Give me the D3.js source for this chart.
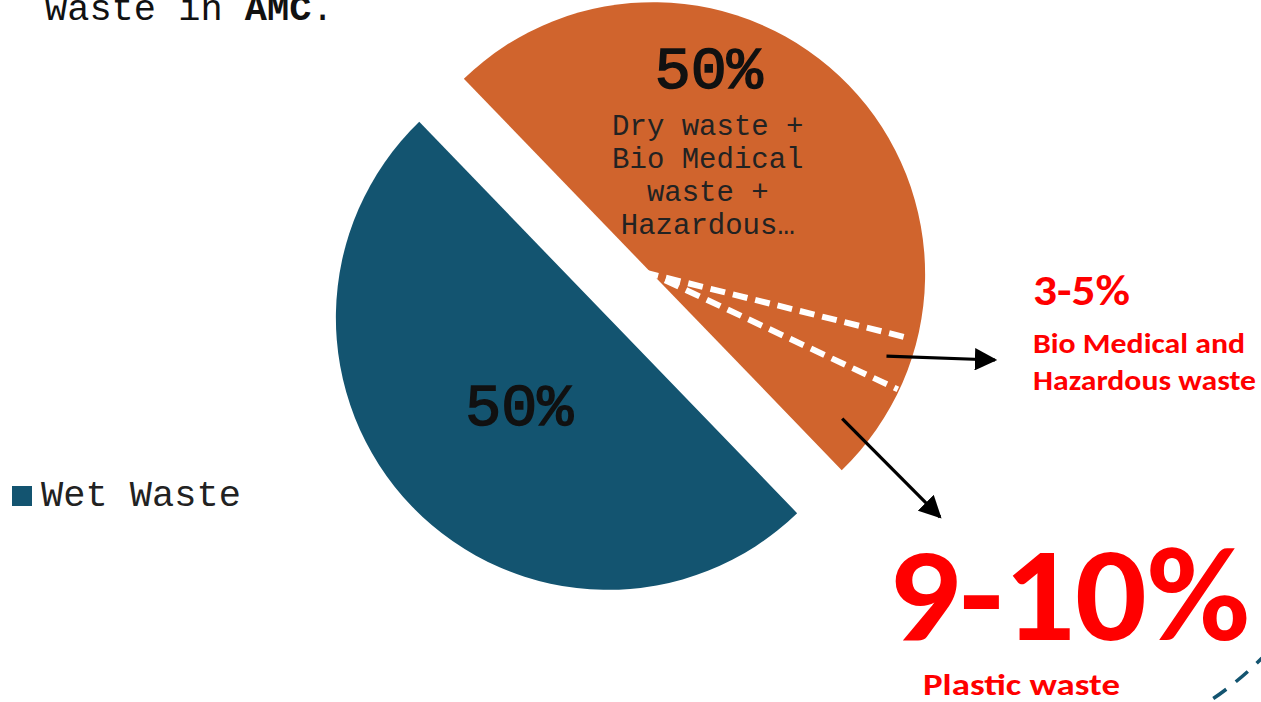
<!DOCTYPE html>
<html>
<head>
  <meta charset="utf-8">
  <title>Waste composition</title>
  <style>
    body { margin: 0; background: #fff; overflow: hidden; }
    svg { display: block; }
  </style>
</head>
<body>
  <svg></svg>
  <script src="https://d3js.org/d3.v7.min.js"></script>
  <script>
    // slices of the pie (percent)
    const categories = ["Dry waste + Bio Medical waste + Hazardous waste", "Wet Waste"];
    const values = [50, 50];
    const valueLabels = ["50%", "50%"];
    const colors = ["#D0642D", "#135470"];

    // split of the dry slice, in percent of the whole pie
    const dryParts = ["Other dry waste", "Bio Medical and Hazardous waste", "Plastic waste"];
    const dryPartValues = [41.1, 3.1, 5.8];

    const callouts = ["3-5%", "9-10%"];
    const calloutNames = [["Bio Medical and", "Hazardous waste"], ["Plastic waste"]];

    const width = 1261;
    const height = 702;
    const mono = "'Courier New', 'Liberation Mono', monospace";
    const sans = "Carlito, Calibri, 'Open Sans', sans-serif";

    const svg = d3.select("svg")
      .attr("width", width)
      .attr("height", height)
      .attr("viewBox", [0, 0, width, height]);

    const cx = 630.5, cy = 296, r = 272, explode = 31;
    const start = -44 * Math.PI / 180;

    const pie = d3.pie().sort(null).startAngle(start).endAngle(start + 2 * Math.PI);
    const arcs = pie(values);
    const arc = d3.arc().innerRadius(0).outerRadius(r);

    const offset = d => {
      const a = (d.startAngle + d.endAngle) / 2;
      return [explode * Math.sin(a), -explode * Math.cos(a)];
    };

    const slices = svg.selectAll("g.slice")
      .data(arcs)
      .join("g")
      .attr("class", "slice")
      .attr("transform", d => {
        const [dx, dy] = offset(d);
        return `translate(${cx + dx},${cy + dy})`;
      });

    slices.append("path")
      .attr("d", arc)
      .attr("fill", (d, i) => colors[i]);

    // dashed dividers inside the dry slice
    const dry = arcs[0];
    const dryScale = d3.scaleLinear()
      .domain([0, d3.sum(dryPartValues)])
      .range([dry.startAngle, dry.endAngle]);
    const cum = d3.cumsum(dryPartValues).slice(0, -1);
    const dividerStart = [-0.035, 0.05];
    const dividerEnd = [0.972, 0.995];

    slices.filter((d, i) => i === 0)
      .selectAll("line.div")
      .data(cum)
      .join("line")
      .attr("class", "div")
      .attr("x1", (v, i) => dividerStart[i] * r * Math.sin(dryScale(v)))
      .attr("y1", (v, i) => -dividerStart[i] * r * Math.cos(dryScale(v)))
      .attr("x2", (v, i) => dividerEnd[i] * r * Math.sin(dryScale(v)))
      .attr("y2", (v, i) => -dividerEnd[i] * r * Math.cos(dryScale(v)))
      .attr("stroke", "#fff")
      .attr("stroke-width", 6)
      .attr("stroke-dasharray", "15,8");

    // slice labels
    const dryG = slices.filter((d, i) => i === 0);
    dryG.append("text")
      .attr("x", 56).attr("y", -186)
      .attr("text-anchor", "middle")
      .attr("font-family", mono)
      .attr("font-size", 60)
      .attr("fill", "#111")
      .attr("stroke", "#111")
      .attr("stroke-width", 1.6)
      .text(valueLabels[0]);

    const dryLines = ["Dry waste +", "Bio Medical", "waste +", "Hazardous\u2026"];
    dryG.append("text")
      .attr("text-anchor", "middle")
      .attr("font-family", mono)
      .attr("font-size", 29)
      .attr("fill", "#222")
      .selectAll("tspan")
      .data(dryLines)
      .join("tspan")
      .attr("x", 55)
      .attr("y", (d, i) => -139 + i * 32.7)
      .text(d => d);

    slices.filter((d, i) => i === 1)
      .append("text")
      .attr("x", -89).attr("y", 107)
      .attr("text-anchor", "middle")
      .attr("font-family", mono)
      .attr("font-size", 60)
      .attr("fill", "#111")
      .attr("stroke", "#111")
      .attr("stroke-width", 1.6)
      .text(valueLabels[1]);

    // arrows
    const defs = svg.append("defs");
    defs.append("marker")
      .attr("id", "head")
      .attr("viewBox", "0 0 10 10")
      .attr("refX", 9).attr("refY", 5)
      .attr("markerWidth", 7).attr("markerHeight", 7)
      .attr("orient", "auto")
      .append("path")
      .attr("d", "M0,0L10,5L0,10z")
      .attr("fill", "#000");

    const [odx, ody] = offset(dry);
    const ox = cx + odx, oy = cy + ody;
    const arrowFrom = [
      [dryScale(cum[0] + dryPartValues[1] / 2) - 0.005, 0.91],
      [dryScale(cum[1] + dryPartValues[2] / 2) + 0.03, 0.875]
    ];
    const arrowTo = [[995, 360], [940, 517]];
    svg.selectAll("line.arrow")
      .data(arrowFrom)
      .join("line")
      .attr("class", "arrow")
      .attr("x1", d => ox + d[1] * r * Math.sin(d[0]))
      .attr("y1", d => oy - d[1] * r * Math.cos(d[0]))
      .attr("x2", (d, i) => arrowTo[i][0])
      .attr("y2", (d, i) => arrowTo[i][1])
      .attr("stroke", "#000")
      .attr("stroke-width", 3.2)
      .attr("marker-end", "url(#head)");

    // red callouts
    svg.append("text")
      .attr("x", 1033).attr("y", 305)
      .attr("font-family", sans).attr("font-weight", "bold")
      .attr("font-size", 42).attr("fill", "#FF0000")
      .attr("textLength", 97).attr("lengthAdjust", "spacingAndGlyphs")
      .text(callouts[0]);
    svg.append("text")
      .attr("font-family", sans).attr("font-weight", "bold")
      .attr("font-size", 28).attr("fill", "#FF0000")
      .selectAll("tspan")
      .data(calloutNames[0])
      .join("tspan")
      .attr("x", 1033)
      .attr("y", (d, i) => 353 + i * 37)
      .attr("textLength", (d, i) => [212, 223][i])
      .attr("lengthAdjust", "spacingAndGlyphs")
      .text(d => d);

    svg.append("text")
      .attr("x", 888).attr("y", 640)
      .attr("font-family", sans).attr("font-weight", "bold")
      .attr("font-size", 134).attr("fill", "#FF0000")
      .attr("textLength", 362).attr("lengthAdjust", "spacingAndGlyphs")
      .text(callouts[1]);
    svg.append("text")
      .attr("x", 923).attr("y", 695)
      .attr("font-family", sans).attr("font-weight", "bold")
      .attr("font-size", 30).attr("fill", "#FF0000")
      .attr("textLength", 197).attr("lengthAdjust", "spacingAndGlyphs")
      .text(calloutNames[1][0]);

    // title (partly cut off at the top)
    const title = svg.append("text")
      .attr("x", 45).attr("y", 20)
      .attr("font-family", mono)
      .attr("font-size", 37)
      .attr("fill", "#111");
    title.append("tspan").text("waste in ");
    title.append("tspan").attr("font-weight", "bold").text("AMC");
    title.append("tspan").text(".");

    // legend
    const legend = svg.append("g").attr("transform", "translate(12,486)");
    legend.append("rect")
      .attr("width", 20).attr("height", 20)
      .attr("fill", colors[1]);
    legend.append("text")
      .attr("x", 29).attr("y", 20)
      .attr("font-family", mono)
      .attr("font-size", 37)
      .attr("fill", "#222")
      .text(categories[1]);

    // decorative dashed arc in the corner
    svg.append("path")
      .attr("d", "M1205,704 Q1235,685 1262,658")
      .attr("fill", "none")
      .attr("stroke", colors[1])
      .attr("stroke-width", 3.5)
      .attr("stroke-dasharray", "16,12")
      .attr("stroke-dashoffset", -10);
  </script>
</body>
</html>
